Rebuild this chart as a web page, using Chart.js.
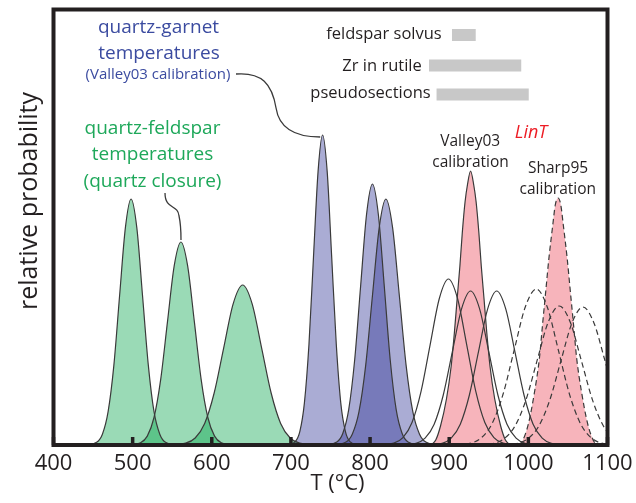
<!DOCTYPE html>
<html><head><meta charset="utf-8">
<script src="https://cdn.jsdelivr.net/npm/chart.js@4.4.1/dist/chart.umd.min.js"></script>
<style>html,body{margin:0;padding:0;background:#fff;}#wrap{width:636px;height:503px;}</style>
</head><body><div id="wrap"><canvas id="c" width="636" height="503"></canvas></div>
<script>
// ---- data: [T (°C), relative probability] ----
const xTicks = [400, 500, 600, 700, 800, 900, 1000, 1100];

// quartz-feldspar temperatures (quartz closure)
const qfA = [[440,0],[454.5,2.7],[461.8,10.8],[469,33.3],[476.3,79.9],[483.5,149.2],[490.8,217.1],[498,246],[505.3,217.1],[512.5,149.2],[519.8,79.9],[527,33.3],[534.3,10.8],[541.5,2.7],[556,0]];
const qfB = [[493,0],[510,2.3],[518.5,8.9],[527,27.5],[535.5,65.9],[544,123.1],[552.5,179.1],[561,203],[569.5,179.1],[578,123.1],[586.5,65.9],[595,27.5],[603.5,8.9],[612,2.3],[629,0]];
const qfC = [[543,0],[567,1.8],[579,7.0],[591,21.6],[603,52.0],[615,97.0],[627,141.2],[639,160],[651,141.2],[663,97.0],[675,52.0],[687,21.6],[699,7.0],[711,1.8],[735,0]];

// quartz-garnet temperatures (Valley03 calibration)
const qgA = [[694,0],[705.5,3.4],[711.3,13.6],[717,41.9],[722.8,100.7],[728.5,188.0],[734.3,273.6],[740,310],[745.8,273.6],[751.5,188.0],[757.3,100.7],[763,41.9],[768.8,13.6],[774.5,3.4],[786,0]];
const qgB = [[743,0],[758,2.9],[765.5,11.5],[773,35.3],[780.5,84.7],[788,158.3],[795.5,230.3],[803,261],[810.5,230.3],[818,158.3],[825.5,84.7],[833,35.3],[840.5,11.5],[848,2.9],[863,0]];
const qgC = [[752,0],[769,2.7],[777.5,10.8],[786,33.3],[794.5,79.9],[803,149.2],[811.5,217.1],[820,246],[828.5,217.1],[837,149.2],[845.5,79.9],[854,33.3],[862.5,10.8],[871,2.7],[888,0]];

// LinT, Valley03 calibration (solid outlines)
const v03A = [[807,0],[830,1.8],[841.5,7.3],[853,22.5],[864.5,53.9],[876,100.7],[887.5,146.5],[899,166],[910.5,146.5],[922,100.7],[933.5,53.9],[945,22.5],[956.5,7.3],[968,1.8],[991,0]];
const v03B = [[835,0],[858,1.7],[869.5,6.8],[881,20.8],[892.5,50.0],[904,93.4],[915.5,135.9],[927,154],[938.5,135.9],[950,93.4],[961.5,50.0],[973,20.8],[984.5,6.8],[996,1.7],[1019,0]];
const v03C = [[868,0],[891,1.7],[902.5,6.8],[914,20.8],[925.5,50.0],[937,93.4],[948.5,135.9],[960,154],[971.5,135.9],[983,93.4],[994.5,50.0],[1006,20.8],[1017.5,6.8],[1029,1.7],[1052,0]];
const v03Sum = [[877,0],[883,5],[889,19],[896.5,46],[902.5,79],[906.5,112],[910,146],[913.5,179],[916.5,212],[920,243],[923,260],[927,274],[931,260],[934,243],[937.5,212],[940.5,179],[944,146],[947.5,112],[951.5,79],[957.5,46],[965,19],[971,5],[977,0]];

// LinT, Sharp95 calibration (dashed outlines)
const s95A = [[898,0],[926,1.7],[940,6.8],[954,21.1],[968,50.7],[982,94.6],[996,137.7],[1010,156],[1024,137.7],[1038,94.6],[1052,50.7],[1066,21.1],[1080,6.8],[1094,1.7],[1122,0]];
const s95B = [[927,0],[955,1.5],[969,6.1],[983,18.8],[997,45.1],[1011,84.3],[1025,122.7],[1039,139],[1053,122.7],[1067,84.3],[1081,45.1],[1095,18.8],[1109,6.1],[1123,1.5],[1151,0]];
const s95C = [[957,0],[985,1.5],[999,6.1],[1013,18.7],[1027,44.8],[1041,83.7],[1055,121.8],[1069,138],[1083,121.8],[1097,83.7],[1111,44.8],[1125,18.7],[1139,6.1],[1153,1.5],[1181,0]];
const s95Sum = [[987.5,0],[992.5,4],[1000,21],[1008,54],[1014,87],[1018,121],[1022,154],[1026,187],[1031,221],[1034,240],[1037.5,247],[1041,240],[1044,221],[1049,187],[1053,154],[1057,121],[1061,87],[1067,54],[1075,21],[1082.5,4],[1087.5,0]];

// other thermometers (ranges)
const rangeNames = ['feldspar solvus', 'Zr in rutile', 'pseudosections'];
const rangeLow   = [903.5, 874.5, 884];
const rangeHigh  = [933.5, 991, 1000.5];
const rangeLevel = [410, 379.5, 350.5];

// ---- styles ----
const FONT = "'Open Sans', sans-serif";
const INK = '#231f20';
const LINE = '#3a3a3a';
const GREEN_FILL = 'rgba(3,163,73,0.4)';
const BLUE_FILL = 'rgba(43,48,148,0.4)';
const PINK_FILL = 'rgba(235,68,85,0.4)';
const toXY = arr => arr.map(p => ({x: p[0], y: p[1]}));

function curve(label, data, fillColor, dashed) {
  return {
    label, data: toXY(data),
    borderColor: LINE, borderWidth: 1.2,
    borderDash: dashed ? [5.5, 3.5] : [],
    backgroundColor: fillColor || 'rgba(0,0,0,0)',
    fill: fillColor ? 'origin' : false,
    pointRadius: 0, cubicInterpolationMode: 'monotone'
  };
}

const datasets = [
  curve('qf A', qfA, GREEN_FILL), curve('qf B', qfB, GREEN_FILL), curve('qf C', qfC, GREEN_FILL),
  curve('qg A', qgA, BLUE_FILL), curve('qg B', qgB, BLUE_FILL), curve('qg C', qgC, BLUE_FILL),
  curve('LinT Valley03', v03Sum, PINK_FILL), curve('LinT Sharp95', s95Sum, PINK_FILL, true),
  curve('Valley03 A', v03A), curve('Valley03 B', v03B), curve('Valley03 C', v03C),
  curve('Sharp95 A', s95A, null, true), curve('Sharp95 B', s95B, null, true), curve('Sharp95 C', s95C, null, true)
];
rangeNames.forEach((n, i) => datasets.push({
  label: n,
  data: [{x: rangeLow[i], y: rangeLevel[i]}, {x: rangeHigh[i], y: rangeLevel[i]}],
  borderColor: '#c8c8c8', borderWidth: 12, borderCapStyle: 'butt',
  pointRadius: 0, fill: false, tension: 0
}));

// annotation texts (positions in data units)
const BLUE_TXT = '#3b4ba0', GREEN_TXT = '#1ea85a', RED_TXT = '#ed1c24';
const notes = [
  {t: 'quartz-garnet', T: 532.7, v: 412, c: BLUE_TXT, f: '19px', a: 'center'},
  {t: 'temperatures', T: 533.3, v: 385.7, c: BLUE_TXT, f: '19px', a: 'center'},
  {t: '(Valley03 calibration)', T: 532, v: 365.7, c: BLUE_TXT, f: '15px', a: 'center'},
  {t: 'quartz-feldspar', T: 525.1, v: 311, c: GREEN_TXT, f: '19px', a: 'center'},
  {t: 'temperatures', T: 525.1, v: 285, c: GREEN_TXT, f: '19px', a: 'center'},
  {t: '(quartz closure)', T: 525.1, v: 258.3, c: GREEN_TXT, f: '19px', a: 'center'},
  {t: 'feldspar solvus', T: 890.5, v: 406, c: INK, f: '16.5px', a: 'right'},
  {t: 'Zr in rutile', T: 865.3, v: 373.7, c: INK, f: '16.5px', a: 'right'},
  {t: 'pseudosections', T: 876.6, v: 347.3, c: INK, f: '16.5px', a: 'right'},
  {t: 'Valley03', T: 926.5, v: 299, c: INK, f: '15.5px', a: 'center'},
  {t: 'calibration', T: 926.9, v: 277.7, c: INK, f: '15.5px', a: 'center'},
  {t: 'LinT', T: 1003.4, v: 306.7, c: RED_TXT, f: 'italic 18px', a: 'center'},
  {t: 'Sharp95', T: 1037.5, v: 271.7, c: INK, f: '15.5px', a: 'center'},
  {t: 'calibration', T: 1037.2, v: 251, c: INK, f: '15.5px', a: 'center'}
];
// leader lines (bezier control points in data units)
const leaders = [
  [[630.6,371],[663.4,373],[676.1,361],[681.2,337],[685,317],[705.1,308],[737,308]],
  [[540.9,252],[540.9,235],[557.3,241],[558.6,229],[561.1,220],[561.1,213],[561.1,205]]
];

const deco = {
  id: 'deco',
  afterDatasetsDraw(chart) {
    const {ctx, chartArea: a, scales: {x, y}} = chart;
    ctx.save();
    // inward tick marks
    ctx.fillStyle = INK;
    xTicks.forEach(t => { const px = x.getPixelForValue(t); ctx.fillRect(px - 1.75, a.bottom - 8, 3.5, 8); });
    // frame
    ctx.lineWidth = 4; ctx.strokeStyle = INK;
    ctx.strokeRect(a.left, a.top, a.right - a.left, a.bottom - a.top);
    // leader lines
    ctx.lineWidth = 1.3; ctx.strokeStyle = LINE; ctx.setLineDash([]);
    leaders.forEach(L => {
      const P = L.map(p => [x.getPixelForValue(p[0]), y.getPixelForValue(p[1])]);
      ctx.beginPath(); ctx.moveTo(P[0][0], P[0][1]);
      ctx.bezierCurveTo(P[1][0], P[1][1], P[2][0], P[2][1], P[3][0], P[3][1]);
      ctx.bezierCurveTo(P[4][0], P[4][1], P[5][0], P[5][1], P[6][0], P[6][1]);
      ctx.stroke();
    });
    // annotation text
    ctx.textBaseline = 'alphabetic';
    notes.forEach(n => {
      ctx.font = n.f + ' ' + FONT; ctx.fillStyle = n.c; ctx.textAlign = n.a;
      ctx.fillText(n.t, x.getPixelForValue(n.T), y.getPixelForValue(n.v));
    });
    // axis titles
    ctx.fillStyle = INK; ctx.textAlign = 'center';
    ctx.font = '22px ' + FONT;
    ctx.fillText('T (°C)', x.getPixelForValue(758.8), 490);
    ctx.save();
    ctx.translate(37, y.getPixelForValue(244));
    ctx.rotate(-Math.PI / 2);
    ctx.font = '25px ' + FONT;
    ctx.fillText('relative probability', 0, 0);
    ctx.restore();
    ctx.restore();
  }
};

new Chart(document.getElementById('c'), {
  type: 'line',
  data: {datasets},
  options: {
    responsive: false, animation: false,
    layout: {padding: {left: 53.5, top: 9.5, right: 28.5, bottom: 19.6}},
    plugins: {legend: {display: false}, tooltip: {enabled: false}, filler: {drawTime: 'beforeDatasetsDraw'}},
    events: [],
    scales: {
      x: {type: 'linear', min: 400, max: 1100,
          afterBuildTicks: s => { s.ticks = xTicks.map(v => ({value: v})); },
          ticks: {padding: 3, color: INK, font: {family: FONT, size: 22, lineHeight: 1.4727}, maxRotation: 0, autoSkip: false,
                  callback: v => String(v)},
          grid: {display: false, drawTicks: false}, border: {display: false}},
      y: {min: 0, max: 435.5, display: true,
          ticks: {display: false}, grid: {display: false, drawTicks: false}, border: {display: false}}
    }
  },
  plugins: [deco]
});
</script>
</body></html>
